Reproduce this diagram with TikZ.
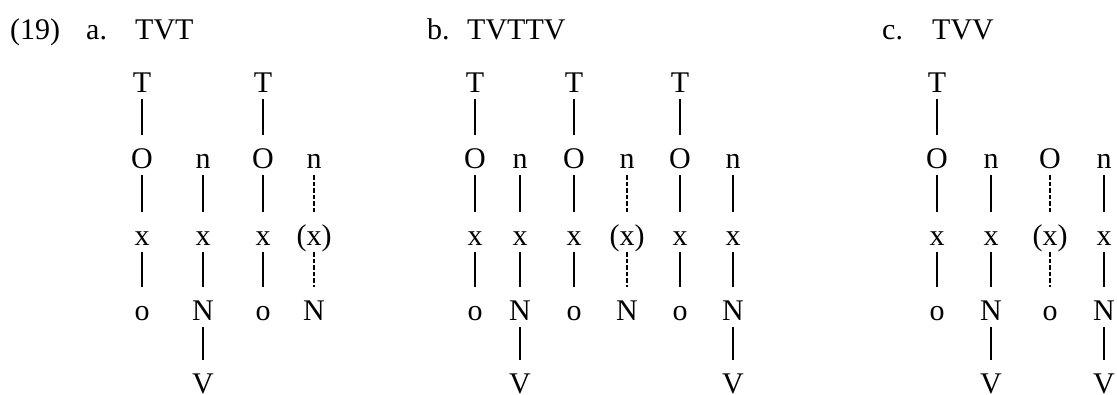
\documentclass[tikz,border=0pt]{standalone}
\usepackage{fontspec}
\setmainfont{Liberation Serif}
\begin{document}
\begin{tikzpicture}[x=1pt,y=-1pt,
  seg/.style={font=\fontsize{30}{36}\selectfont, anchor=base, inner sep=0pt,
              text height=20pt, text depth=0pt},
  head/.style={font=\fontsize{30}{36}\selectfont, anchor=base west, inner sep=0pt},
  link/.style={line width=1.2pt, shorten <=7pt, shorten >=13pt},
  weak/.style={link, dash pattern=on 4.5pt off 2pt}]
\useasboundingbox (0,0) rectangle (1117,394);

% headings
\node[head] (num) at (10,39) {(19)};
\node[head] (la) at (86,39) {a.};
\node[head] (ta) at (135,39) {TVT};
\node[head] (lb) at (427,39) {b.};
\node[head] (tb) at (467,39) {TVTTV};
\node[head] (lc) at (882,39) {c.};
\node[head] (tc) at (932,39) {TVV};

% ---------- a. TVT ----------
\node[seg] (aT1) at (142,92)  {T};
\node[seg] (aO1) at (142,168) {O};
\node[seg] (ax1) at (142,245) {x};
\node[seg] (ao1) at (142,320) {o};
\node[seg] (an2) at (203,168) {n};
\node[seg] (ax2) at (203,245) {x};
\node[seg] (aN2) at (203,320) {N};
\node[seg] (aV2) at (203,393) {V};
\node[seg] (aT3) at (263,92)  {T};
\node[seg] (aO3) at (263,168) {O};
\node[seg] (ax3) at (263,245) {x};
\node[seg] (ao3) at (263,320) {o};
\node[seg] (an4) at (314,168) {n};
\node[seg] (ax4) at (314,245) {(x)};
\node[seg] (aN4) at (314,320) {N};

\draw[link] (aT1.south) -- (aO1.north);
\draw[link] (aO1.south) -- (ax1.north);
\draw[link] (ax1.south) -- (ao1.north);
\draw[link] (an2.south) -- (ax2.north);
\draw[link] (ax2.south) -- (aN2.north);
\draw[link] (aN2.south) -- (aV2.north);
\draw[link] (aT3.south) -- (aO3.north);
\draw[link] (aO3.south) -- (ax3.north);
\draw[link] (ax3.south) -- (ao3.north);
\draw[weak] (an4.south) -- (ax4.north);
\draw[weak] (ax4.south) -- (aN4.north);

% ---------- b. TVTTV ----------
\node[seg] (bT1) at (475,92)  {T};
\node[seg] (bO1) at (475,168) {O};
\node[seg] (bx1) at (475,245) {x};
\node[seg] (bo1) at (475,320) {o};
\node[seg] (bn2) at (520,168) {n};
\node[seg] (bx2) at (520,245) {x};
\node[seg] (bN2) at (520,320) {N};
\node[seg] (bV2) at (520,393) {V};
\node[seg] (bT3) at (574,92)  {T};
\node[seg] (bO3) at (574,168) {O};
\node[seg] (bx3) at (574,245) {x};
\node[seg] (bo3) at (574,320) {o};
\node[seg] (bn4) at (627,168) {n};
\node[seg] (bx4) at (627,245) {(x)};
\node[seg] (bN4) at (627,320) {N};
\node[seg] (bT5) at (680,92)  {T};
\node[seg] (bO5) at (680,168) {O};
\node[seg] (bx5) at (680,245) {x};
\node[seg] (bo5) at (680,320) {o};
\node[seg] (bn6) at (733,168) {n};
\node[seg] (bx6) at (733,245) {x};
\node[seg] (bN6) at (733,320) {N};
\node[seg] (bV6) at (733,393) {V};

\draw[link] (bT1.south) -- (bO1.north);
\draw[link] (bO1.south) -- (bx1.north);
\draw[link] (bx1.south) -- (bo1.north);
\draw[link] (bn2.south) -- (bx2.north);
\draw[link] (bx2.south) -- (bN2.north);
\draw[link] (bN2.south) -- (bV2.north);
\draw[link] (bT3.south) -- (bO3.north);
\draw[link] (bO3.south) -- (bx3.north);
\draw[link] (bx3.south) -- (bo3.north);
\draw[weak] (bn4.south) -- (bx4.north);
\draw[weak] (bx4.south) -- (bN4.north);
\draw[link] (bT5.south) -- (bO5.north);
\draw[link] (bO5.south) -- (bx5.north);
\draw[link] (bx5.south) -- (bo5.north);
\draw[link] (bn6.south) -- (bx6.north);
\draw[link] (bx6.south) -- (bN6.north);
\draw[link] (bN6.south) -- (bV6.north);

% ---------- c. TVV ----------
\node[seg] (cT1) at (937,92)  {T};
\node[seg] (cO1) at (937,168) {O};
\node[seg] (cx1) at (937,245) {x};
\node[seg] (co1) at (937,320) {o};
\node[seg] (cn2) at (991,168) {n};
\node[seg] (cx2) at (991,245) {x};
\node[seg] (cN2) at (991,320) {N};
\node[seg] (cV2) at (991,393) {V};
\node[seg] (cO3) at (1050,168) {O};
\node[seg] (cx3) at (1050,245) {(x)};
\node[seg] (co3) at (1050,320) {o};
\node[seg] (cn4) at (1104,168) {n};
\node[seg] (cx4) at (1104,245) {x};
\node[seg] (cN4) at (1104,320) {N};
\node[seg] (cV4) at (1104,393) {V};

\draw[link] (cT1.south) -- (cO1.north);
\draw[link] (cO1.south) -- (cx1.north);
\draw[link] (cx1.south) -- (co1.north);
\draw[link] (cn2.south) -- (cx2.north);
\draw[link] (cx2.south) -- (cN2.north);
\draw[link] (cN2.south) -- (cV2.north);
\draw[weak] (cO3.south) -- (cx3.north);
\draw[weak] (cx3.south) -- (co3.north);
\draw[link] (cn4.south) -- (cx4.north);
\draw[link] (cx4.south) -- (cN4.north);
\draw[link] (cN4.south) -- (cV4.north);
\end{tikzpicture}
\end{document}
